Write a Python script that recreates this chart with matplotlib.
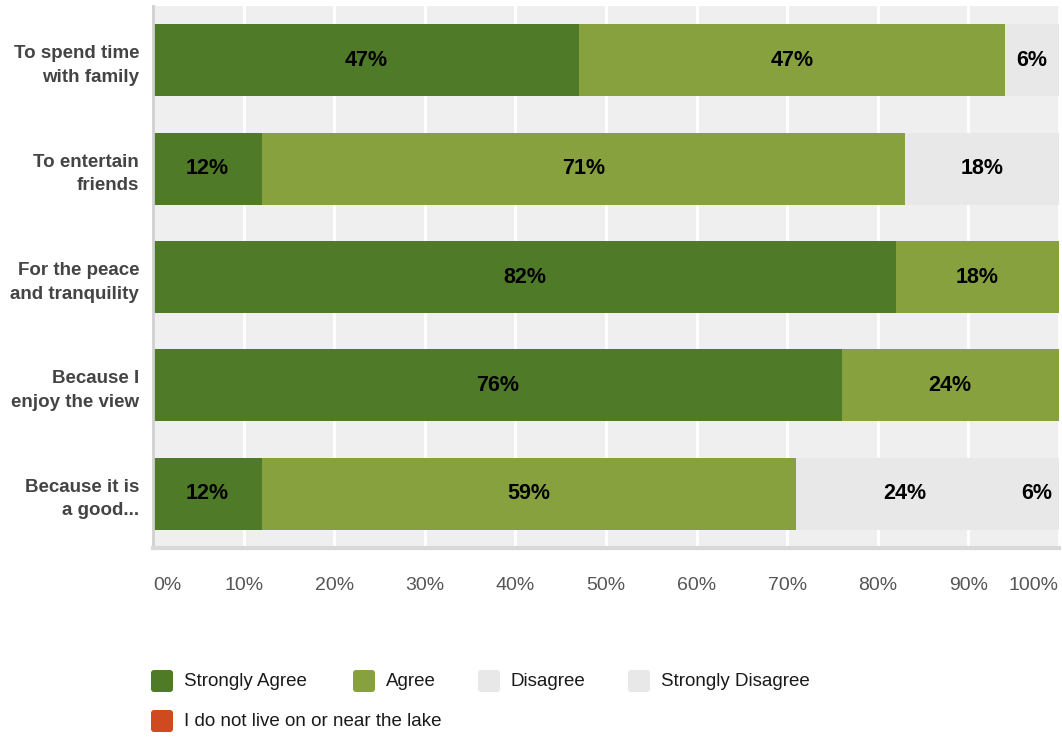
import numpy as np
import matplotlib.pyplot as plt
from matplotlib.patches import FancyBboxPatch

plt.rcParams['font.family'] = ['Liberation Sans', 'DejaVu Sans']

questions = ['To spend time\nwith family', 'To entertain\nfriends', 'For the peace\nand tranquility',
             'Because I\nenjoy the view', 'Because it is\na good...']
answers = ['Strongly Agree', 'Agree', 'Disagree', 'Strongly Disagree', 'I do not live on or near the lake']
colors = ['#4f7a28', '#87a13e', '#e8e8e8', '#e8e8e8', '#cf4a1f']

strongly_agree = [47, 12, 82, 76, 12]
agree = [47, 71, 18, 24, 59]
disagree = [0, 18, 0, 0, 24]
strongly_disagree = [6, 0, 0, 0, 6]
not_near_lake = [0, 0, 0, 0, 0]
series = [strongly_agree, agree, disagree, strongly_disagree, not_near_lake]

ticks = np.arange(0, 101, 10)
tick_labels = ['%d%%' % t for t in ticks]

fig = plt.figure(figsize=(10.62, 7.38), dpi=100)
ax = fig.add_axes([153 / 1062, 1 - 548 / 738, 906 / 1062, 542 / 738])
ax.set_facecolor('#efefef')

y = np.arange(len(questions))
left = np.zeros(len(questions))
for vals, col in zip(series, colors):
    vals = np.array(vals, dtype=float)
    ax.barh(y, vals, left=left, height=0.665, color=col, zorder=2)
    for i, v in enumerate(vals):
        if v > 0:
            right = min(left[i] + v, 100)
            ax.text((left[i] + right) / 2, y[i], '%d%%' % v, ha='center', va='center',
                    fontsize=15.5, fontweight='bold', color='black', zorder=3)
    left += vals

ax.set_xlim(0, 100)
ax.set_ylim(len(questions) - 0.5, -0.5)
ax.set_xticks(ticks)
ax.set_xticklabels(tick_labels, fontsize=14, color='#555555')
ax.get_xticklabels()[0].set_ha('left')
ax.get_xticklabels()[-1].set_ha('right')
ax.set_yticks(y)
ax.set_yticklabels(questions, fontsize=13.5, fontweight='bold', color='#444444',
                   linespacing=1.5, multialignment='right')
ax.tick_params(axis='both', length=0)
ax.tick_params(axis='x', pad=21)
ax.tick_params(axis='y', pad=10)
ax.grid(axis='x', color='white', linewidth=2, zorder=1)
ax.set_axisbelow(True)

for s in ['top', 'right']:
    ax.spines[s].set_visible(False)
ax.spines['left'].set_color('#d0d0d0')
ax.spines['left'].set_linewidth(2)
ax.spines['bottom'].set_color('#d9d9d9')
ax.spines['bottom'].set_linewidth(3)

# legend drawn by hand, two rows under the chart
legend_pos = [(151, 681), (353, 681), (478, 681), (628, 681), (151, 721)]
for (px, py), name, col in zip(legend_pos, answers, colors):
    box = FancyBboxPatch((px / 100, (738 - py - 11) / 100), 0.22, 0.22,
                         boxstyle='round,pad=0,rounding_size=0.03',
                         transform=fig.dpi_scale_trans, facecolor=col, edgecolor='none')
    fig.add_artist(box)
    fig.text((px + 33) / 1062, 1 - py / 738, name, ha='left', va='center',
             fontsize=13.5, color='#1a1a1a')

fig.savefig('out.png', dpi=100)
